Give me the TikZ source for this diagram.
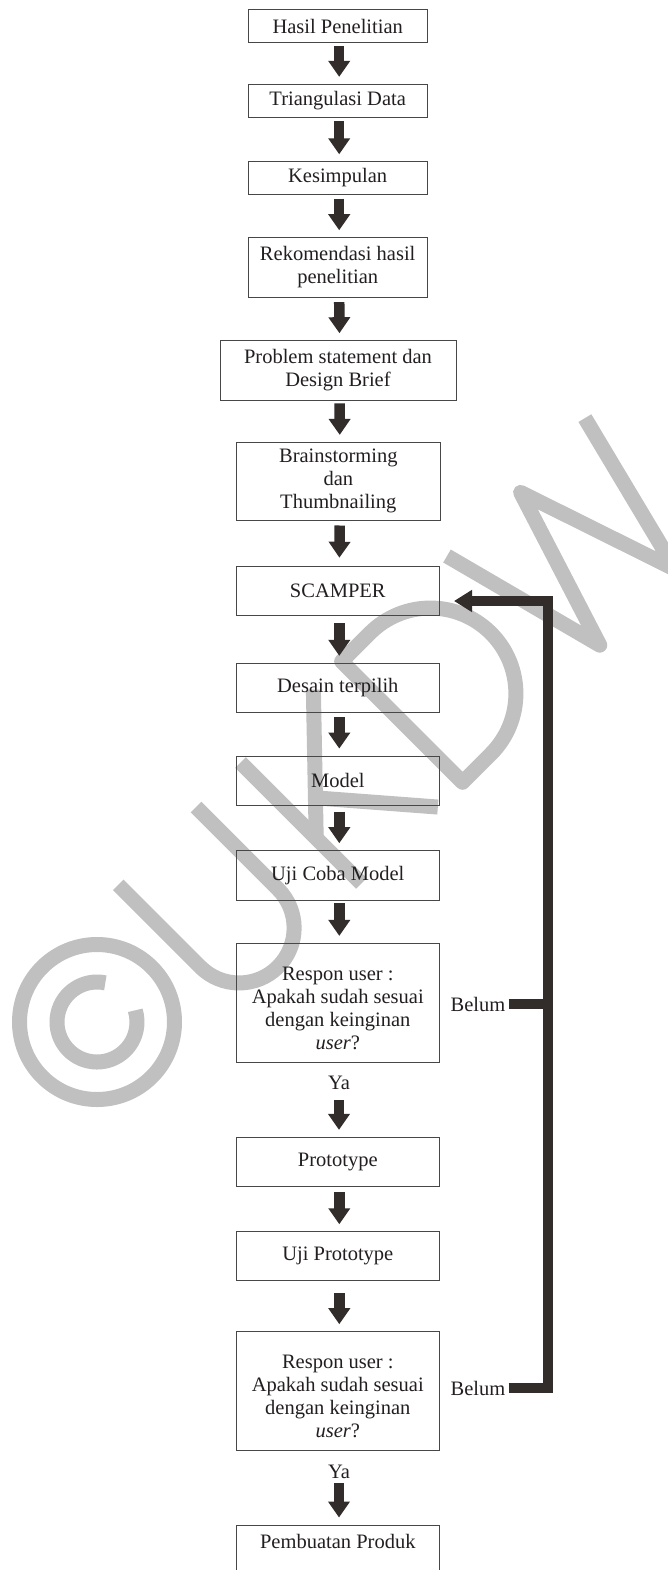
\documentclass[tikz,border=0pt]{standalone}
\usepackage{fontspec}
\setmainfont{Liberation Serif}
\usetikzlibrary{arrows.meta,calc}
\definecolor{ink}{RGB}{35,31,32}
\definecolor{arr}{RGB}{50,44,42}
\definecolor{wmark}{RGB}{192,192,192}
\newcommand\figfont{\fontsize{20.5}{23}\selectfont}
\begin{document}
\begin{tikzpicture}[x=1pt,y=-1pt,
  box/.style={draw=black!72, line width=0.9pt, text=ink, font=\figfont, align=center, inner sep=0pt},
  lbl/.style={text=ink, font=\figfont, inner sep=0pt},
  blk/.style={draw=arr, line width=10.5pt, -{Triangle[width=21pt,length=16pt]}, shorten >=7pt},
  fb/.style={draw=arr, line width=10pt, line join=miter},
  wm/.style={draw=wmark, line width=15pt, line cap=butt, line join=round}]
\useasboundingbox (0,0) rectangle (668,1570);
\fill[white] (0,0) rectangle (668,1570);
\clip (0,0) rectangle (668,1570);

% watermark (C)UKDW, drawn in a rotated frame
\begin{scope}[shift={(97,1022)}, rotate=45, x=1pt, y=1pt]
  \draw[wm] (0,0) circle (77.5);
  \draw[wm] (33:40) arc (33:332:40);
  \draw[wm] (112,82) -- (112,-34) arc (180:360:55) -- (222,82);
  \draw[wm] (285,-89) -- (285,82);
  \draw[wm] (285,-25) -- (388,82);
  \draw[wm] (313,4) -- (393,-89);
  \draw[wm] (428,-89) -- (428,82) -- (468,82) arc (90:-90:85.5) -- cycle;
  \draw[wm] (577,82) -- (622,-89) -- (674,75) -- (729,-89) -- (772,82);
\end{scope}

\node[box, minimum width=179.5pt, minimum height=33.4pt] (n1) at (337.7,26) {Hasil Penelitian};
\node[box, minimum width=179.5pt, minimum height=33.4pt] (n2) at (337.7,101) {Triangulasi Data};
\node[box, minimum width=179.5pt, minimum height=32.5pt] (n3) at (337.7,178) {Kesimpulan};
\node[box, minimum width=179.5pt, minimum height=59.6pt] (n4) at (337.7,267.5) {Rekomendasi hasil\\penelitian};
\node[box, minimum width=236pt, minimum height=59.3pt] (n5) at (338,370.3) {Problem statement dan\\Design Brief};
\node[box, minimum width=203.3pt, minimum height=77.7pt] (n6) at (338.3,481.2) {Brainstorming\\dan\\Thumbnailing};
\node[box, minimum width=203.5pt, minimum height=48.3pt] (n7) at (337.8,590.8) {SCAMPER};
\node[box, minimum width=203.5pt, minimum height=49pt] (n8) at (337.8,687.8) {Desain terpilih};
\node[box, minimum width=203.5pt, minimum height=49.3pt] (n9) at (337.8,780.7) {Model};
\node[box, minimum width=203.5pt, minimum height=49.3pt] (n10) at (337.8,875.3) {Uji Coba Model};
\node[box, minimum width=203.5pt, minimum height=118.7pt, text height=94pt] (n11) at (337.8,1002.7) {Respon user :\\Apakah sudah sesuai\\dengan keinginan\\\textit{user}?};
\node[lbl] (ya1) at (339,1083) {Ya};
\node[box, minimum width=203.5pt, minimum height=49.4pt] (n12) at (337.8,1162) {Prototype};
\node[box, minimum width=203.5pt, minimum height=49pt] (n13) at (337.8,1256.2) {Uji Prototype};
\node[box, minimum width=203.5pt, minimum height=118.3pt, text height=94pt] (n14) at (337.8,1390.8) {Respon user :\\Apakah sudah sesuai\\dengan keinginan\\\textit{user}?};
\node[lbl] (ya2) at (339,1472) {Ya};
\node[box, anchor=north, minimum width=203.5pt, text height=24pt, text depth=50pt] (n15) at (337.8,1524.5) {Pembuatan Produk};

\node[lbl] (belum1) at (478,1004) {Belum};
\node[lbl] (belum2) at (478,1388) {Belum};

\draw[blk, shorten <=3.3pt] ([xshift=1.5pt]n1.south) -- ([xshift=1.5pt]n2.north);
\draw[blk, shorten <=3.3pt] ([xshift=1.5pt]n2.south) -- ([xshift=1.5pt]n3.north);
\draw[blk, shorten <=4pt] ([xshift=1.5pt]n3.south) -- ([xshift=1.5pt]n4.north);
\draw[blk, shorten <=4.4pt] ([xshift=1.5pt]n4.south) -- ([xshift=1.5pt]n5.north);
\draw[blk, shorten <=3pt] ([xshift=1.5pt]n5.south) -- ([xshift=1.5pt]n6.north);
\draw[blk, shorten <=5pt, shorten >=8.5pt] ([xshift=1.5pt]n6.south) -- ([xshift=1.5pt]n7.north);
\draw[blk, shorten <=8pt] ([xshift=1.5pt]n7.south) -- ([xshift=1.5pt]n8.north);
\draw[blk, shorten <=4.7pt] ([xshift=1.5pt]n8.south) -- ([xshift=1.5pt]n9.north);
\draw[blk, shorten <=5.7pt] ([xshift=1.5pt]n9.south) -- ([xshift=1.5pt]n10.north);
\draw[blk, shorten <=3pt] ([xshift=1.5pt]n10.south) -- ([xshift=1.5pt]n11.north);
\draw[blk, shorten <=10pt] (ya1.south) -- (ya1.south |- n12.north);
\draw[blk, shorten <=5pt] ([xshift=1.5pt]n12.south) -- ([xshift=1.5pt]n13.north);
\draw[blk, shorten <=12pt] ([xshift=1.5pt]n13.south) -- ([xshift=1.5pt]n14.north);
\draw[blk, shorten <=4pt] (ya2.south) -- (ya2.south |- n15.north);

\coordinate (fbA) at (548,1388);
\coordinate (fbB) at (548,601);
\draw[fb, shorten <=3pt] (belum1.east) -- (belum1.east -| fbA);
\draw[fb, -{Triangle[width=21pt,length=18pt]}, shorten <=3pt, shorten >=14pt] (belum2.east) -- (fbA) -- (fbB) -- (n7.east |- fbB);
\end{tikzpicture}
\end{document}
